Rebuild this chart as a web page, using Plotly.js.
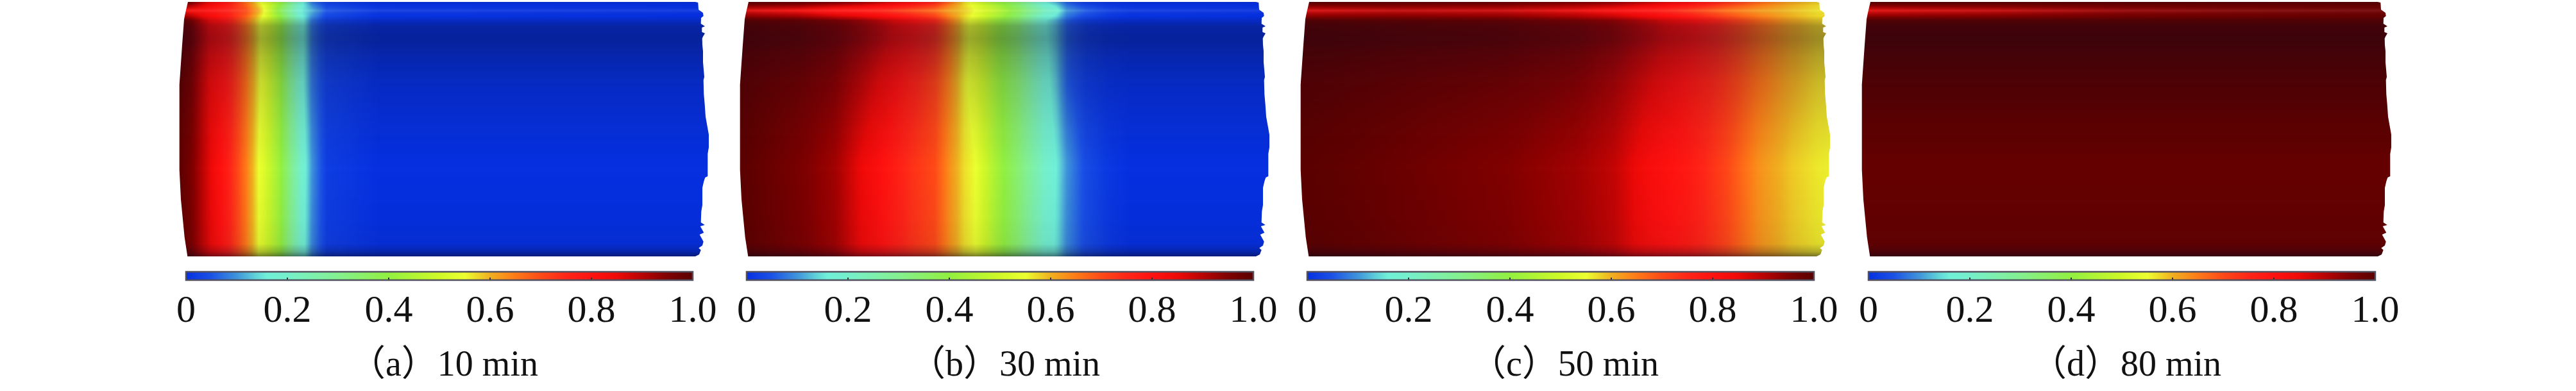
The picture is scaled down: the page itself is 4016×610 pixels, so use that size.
<!DOCTYPE html>
<html><head><meta charset="utf-8">
<script src="https://cdn.plot.ly/plotly-3.0.1.min.js"></script>
<style>html,body{margin:0;padding:0;background:#fff}#c{width:4016px;height:610px}</style>
</head><body><div id="c"></div>
<script>
// ---- data ----
const captions = ['（a）10 min','（b）30 min','（c）50 min','（d）80 min'];
const captionCenters = [692,1566,2439,3314];
const barStarts = [290,1164,2038,2913];
const tickVals = [0,0.2,0.4,0.6,0.8,1.0];
const tickText = ['0','0.2','0.4','0.6','0.8','1.0'];
const rowY = [3,16,32,130,250,400];

const colsA = [-12,7,36,64,93,113,122,145,179,196,219,300,816];
const zA = [
 [1,.96,.85,.78,.66,.56,.53,.42,.18,.08,.025,0,0],
 [.86,.83,.8,.76,.7,.6,.55,.38,.16,.12,.05,.01,0],
 [1,.96,.85,.78,.66,.56,.53,.42,.18,.08,.025,0,0],
 [1,.96,.85,.78,.66,.56,.53,.42,.18,.08,.025,0,0],
 [1,.96,.86,.77,.65,.55,.52,.42,.2,.1,.02,0,0],
 [1,.96,.86,.77,.65,.55,.52,.42,.19,.09,.02,0,0]
];
const colsB = [-12,80,138,178,212,253,293,316,339,356,390,425,465,482,499,528,563,597,816];
const zB = [
 [1,.98,.95,.92,.88,.82,.75,.66,.57,.53,.42,.33,.16,.12,.06,.02,.005,0,0],
 [.87,.84,.79,.77,.745,.7,.66,.61,.58,.55,.47,.36,.22,.18,.1,.06,.025,.01,0],
 [1,.98,.95,.92,.88,.82,.75,.66,.57,.53,.42,.33,.16,.12,.06,.02,.005,0,0],
 [1,.97,.94,.89,.84,.77,.71,.64,.56,.53,.42,.33,.18,.13,.06,.02,.005,0,0],
 [1,.96,.92,.85,.8,.74,.7,.63,.57,.55,.43,.33,.2,.16,.1,.04,.012,0,0],
 [1,.96,.92,.85,.8,.74,.7,.63,.57,.55,.43,.33,.19,.15,.09,.04,.012,0,0]
];
const colsC = [-12,134,306,421,478,536,593,650,702,754,794,816];
const zC = [
 [1,.99,.98,.95,.93,.88,.82,.74,.67,.61,.58,.575],
 [.87,.89,.88,.85,.82,.78,.72,.66,.62,.59,.57,.565],
 [1,.99,.98,.95,.93,.88,.82,.74,.67,.61,.58,.575],
 [1,.985,.965,.94,.91,.855,.79,.73,.66,.605,.575,.57],
 [1,.98,.95,.92,.89,.82,.78,.71,.63,.585,.565,.56],
 [1,.98,.95,.92,.89,.82,.78,.71,.63,.585,.565,.56]
];
const colsD = [-12,200,400,600,816];
const zD = [
 [1,1,1,1,1],
 [.86,.89,.93,.95,.97],
 [1,1,1,1,1],
 [1,1,1,1,1],
 [.985,.985,.985,.985,.985],
 [.985,.985,.985,.985,.985]
];
// surface shading along the height (negative: highlight, positive: shadow)
const shadeY = [3,8,16,24,30,40,60,90,130,200,260,340,380,392,400];
const shadeV = [.15,.03,-1,0,.2,.5,.6,.42,.25,.1,0,.05,.12,.45,.9];
// outline of the tube
const leftEdgeX = [3,-1,-3,-6,-9,-10.3,-10.3,-8,-2.3,2.3];
const leftEdgeY = [3,20,30,70,115,132,265,311,370,400];
const rightEdgeX = [794,798.3,799,806,806.7,803,802.7,809,804.3,804.3,809,806,804.7,805,806,806,807.3,808,806.7,807.3,808.7,810,812.7,815,815,813.3,813.3,809.3,807.3,805,805,803.3,802.7,808.7,801.7,807.3,800.7,806.7,805,799.3,802.7,800,794];
const rightEdgeY = [3,4,15,20,25,28,37,41,43,50,52,57,60,70,80,97,110,120,125,147,163,182,197,210,230,240,275,277,283,293,320,330,347,351,353,363,366,377,383,387,390,397,400];

const colorStops = [
 [0,'#0630e0'],[.05,'#1c52e6'],[.1,'#3f94da'],[.14,'#62d6d8'],[.16,'#70f0d8'],[.2,'#76f0cc'],
 [.3,'#84f090'],[.4,'#92f040'],[.5,'#d0f828'],[.55,'#ecff30'],[.6,'#f0b020'],[.65,'#ff7a18'],
 [.7,'#ff4a18'],[.75,'#ff2618'],[.8,'#ff1210'],[.85,'#ee0a08'],[.9,'#b80404'],[.95,'#800000'],[1,'#5a0000']
];
const shadeStops = [[0,'rgba(255,255,255,0.08)'],[.5,'rgba(10,10,30,0)'],[1,'rgba(10,10,30,0.6)']];

const SERIF = '"Liberation Serif","Noto Sans CJK SC",serif';
const W=4016,H=610, TOP=3,BOT=400;
const cols=[colsA,colsB,colsC,colsD], zs=[zA,zB,zC,zD];
const OUT_L=-20, OUT_R=830;
const traces=[]; const layout={
  width:W,height:H,margin:{l:0,r:0,t:0,b:0},paper_bgcolor:'#fff',plot_bgcolor:'rgba(0,0,0,0)',
  showlegend:false,annotations:[],font:{family:SERIF,color:'#111'}
};
barStarts.forEach((b,i)=>{
  const s=i?String(i+1):'';
  const xa='x'+s, ya='y'+s;
  layout['xaxis'+s]={domain:[(b+OUT_L)/W,(b+OUT_R)/W],range:[OUT_L,OUT_R],visible:false,fixedrange:true,anchor:ya};
  layout['yaxis'+s]={domain:[(H-BOT)/H,(H-TOP)/H],range:[BOT,TOP],visible:false,fixedrange:true,anchor:xa};
  const ca='coloraxis'+s;
  layout[ca]={cmin:0,cmax:1,colorscale:colorStops,colorbar:{
    orientation:'h',x:b/W,xref:'paper',xanchor:'left',y:(H-424)/H,yref:'paper',yanchor:'top',
    lenmode:'pixels',len:790,thicknessmode:'pixels',thickness:13,xpad:0,ypad:0,
    tickmode:'array',tickvals:tickVals,ticktext:tickText,ticks:'inside',ticklen:5,tickwidth:2,tickcolor:'#333',
    outlinecolor:'#50505f',outlinewidth:2.5,borderwidth:0,
    tickfont:{family:SERIF,size:60,color:'#111'}
  }};
  traces.push({type:'heatmap',x:cols[i],y:rowY,z:zs[i],coloraxis:ca,zsmooth:'best',xaxis:xa,yaxis:ya,hoverinfo:'skip'});
  traces.push({type:'heatmap',x:[OUT_L,OUT_R],y:shadeY,z:shadeV.map(v=>[v,v]),zmin:-1,zmax:1,colorscale:shadeStops,showscale:false,zsmooth:'best',xaxis:xa,yaxis:ya,hoverinfo:'skip'});
  traces.push({type:'scatter',mode:'lines',x:[OUT_L,...leftEdgeX,OUT_L],y:[TOP,...leftEdgeY,BOT],fill:'toself',fillcolor:'#fff',line:{width:0},xaxis:xa,yaxis:ya,hoverinfo:'skip'});
  traces.push({type:'scatter',mode:'lines',x:[OUT_R,...rightEdgeX,OUT_R],y:[TOP,...rightEdgeY,BOT],fill:'toself',fillcolor:'#fff',line:{width:0},xaxis:xa,yaxis:ya,hoverinfo:'skip'});
  layout.annotations.push({text:captions[i],xref:'paper',yref:'paper',x:captionCenters[i]/W,y:(H-600)/H,xanchor:'center',yanchor:'bottom',showarrow:false,font:{family:SERIF,size:56,color:'#111'}});
});
Plotly.newPlot('c',traces,layout,{displayModeBar:false,staticPlot:true}).then(()=>{
  // tick labels sit closer to the bar in the reference
  document.querySelectorAll('.colorbar .xtick text, .cbaxis text').forEach(t=>{
    t.setAttribute('y',String(parseFloat(t.getAttribute('y')||0)-9));
  });
});
</script></body></html>
